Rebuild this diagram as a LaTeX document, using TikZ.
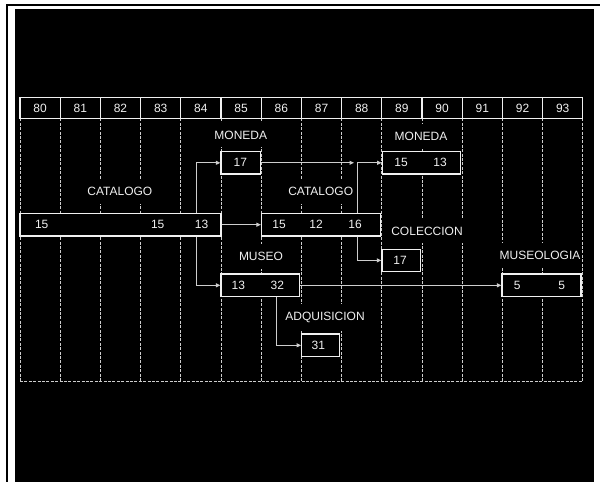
\documentclass[tikz,border=0pt]{standalone}
\usepackage{fontspec}
\setmainfont{Liberation Sans}
\usetikzlibrary{arrows.meta,calc}
\definecolor{paper}{RGB}{0,0,0}
\definecolor{ink}{RGB}{240,240,240}
\definecolor{trace}{RGB}{205,205,205}

\begin{document}
\begin{tikzpicture}[x=1pt,y=-1pt,
  >={Triangle[length=4.5pt,width=4pt]},
  font=\fontsize{12}{14}\selectfont,
  cell/.style={draw=ink,line width=1.3pt},
  gridline/.style={trace,line width=0.9pt,dash pattern=on 3pt off 1.4pt},
  box/.style={draw=ink,fill=paper,line width=1.3pt,minimum height=22.4pt,inner sep=0pt},
  num/.style={text=ink,inner sep=0pt},
  tag/.style={text=ink,fill=paper,inner xsep=1.5pt,inner ysep=8pt},
  year/.style={text=ink,inner sep=0pt},
  link/.style={trace,line width=1pt,->}
]
\useasboundingbox (0,0) rectangle (600,482);
% Scanned sheet: white page, black frame lines, black plate.
\fill[white] (0,0) rectangle (600,482);
\fill[paper] (15,9) rectangle (594,482);
\draw[paper,line width=2pt] (7,482) -- (7,5) -- (600,5);

% Year columns (dashed below the header row).
\draw[gridline] (20.0,118.3) -- (20.0,381) (60.2,118.3) -- (60.2,381) (100.4,118.3) -- (100.4,381)
  (140.6,118.3) -- (140.6,381) (180.8,118.3) -- (180.8,381) (221.0,118.3) -- (221.0,381)
  (261.2,118.3) -- (261.2,381) (301.4,118.3) -- (301.4,381) (341.6,118.3) -- (341.6,381)
  (381.8,118.3) -- (381.8,381) (422.0,118.3) -- (422.0,381) (462.2,118.3) -- (462.2,381)
  (502.4,118.3) -- (502.4,381) (542.6,118.3) -- (542.6,381) (582.8,118.3) -- (582.8,381)
  (20.0,381) -- (582.8,381);
\draw[cell] (20.0,97.3) rectangle (582.8,118.3);
\draw[cell] (60.2,97.3) -- (60.2,118.3) (100.4,97.3) -- (100.4,118.3) (140.6,97.3) -- (140.6,118.3)
  (180.8,97.3) -- (180.8,118.3) (221.0,97.3) -- (221.0,118.3) (261.2,97.3) -- (261.2,118.3)
  (301.4,97.3) -- (301.4,118.3) (341.6,97.3) -- (341.6,118.3) (381.8,97.3) -- (381.8,118.3)
  (422.0,97.3) -- (422.0,118.3) (462.2,97.3) -- (462.2,118.3) (502.4,97.3) -- (502.4,118.3)
  (542.6,97.3) -- (542.6,118.3);
\node[year] (y80) at (40.1,108) {80};
\node[year] (y81) at (80.3,108) {81};
\node[year] (y82) at (120.5,108) {82};
\node[year] (y83) at (160.7,108) {83};
\node[year] (y84) at (200.9,108) {84};
\node[year] (y85) at (241.1,108) {85};
\node[year] (y86) at (281.3,108) {86};
\node[year] (y87) at (321.5,108) {87};
\node[year] (y88) at (361.7,108) {88};
\node[year] (y89) at (401.9,108) {89};
\node[year] (y90) at (442.1,108) {90};
\node[year] (y91) at (482.3,108) {91};
\node[year] (y92) at (522.5,108) {92};
\node[year] (y93) at (562.7,108) {93};

% Series names knock out the column lines behind them.
\node[tag] (tmon1) at (240.8,135.0) {MONEDA};
\node[tag] (tmon2) at (421.0,136.7) {MONEDA};
\node[tag] (tcat1) at (119.8,191.7) {CATALOGO};
\node[tag] (tcat2) at (320.7,191.7) {CATALOGO};
\node[tag] (tcol)  at (427.0,231.0) {COLECCION};
\node[tag] (tmus)  at (261.0,256.7) {MUSEO};
\node[tag] (tmusl) at (540.0,255.7) {MUSEOLOGIA};
\node[tag] (tadq)  at (325.0,317.7) {ADQUISICION};

\node[box,minimum width=201pt]   (cat1)  at (120.5,224.7) {};
\node[box,minimum width=39.3pt]  (mon1)  at (240.6,162.8) {};
\node[box,minimum width=119pt]   (cat2)  at (321.1,224.7) {};
\node[box,minimum width=78pt]    (mon2)  at (421.2,162.8) {};
\node[box,minimum width=38.3pt]  (col)   at (401.1,260.4) {};
\node[box,minimum width=78.2pt]  (mus)   at (260.1,285.3) {};
\node[box,minimum width=37.8pt]  (adq)   at (320.6,345.3) {};
\node[box,minimum width=79pt]    (musl)  at (541.5,285.3) {};

\node[num] (cat1a) at (41.7,224.7)  {15};
\node[num] (cat1b) at (157.7,224.7) {15};
\node[num] (cat1c) at (201.5,224.7) {13};
\node[num] (mon1a) at (240.3,162.8) {17};
\node[num] (cat2a) at (279.0,224.7) {15};
\node[num] (cat2b) at (316.0,224.7) {12};
\node[num] (cat2c) at (355.0,224.7) {16};
\node[num] (mon2a) at (401.0,162.8) {15};
\node[num] (mon2b) at (440.0,162.8) {13};
\node[num] (cola)  at (400.0,260.4) {17};
\node[num] (musa)  at (238.3,285.3) {13};
\node[num] (musb)  at (277.3,285.3) {32};
\node[num] (adqa)  at (318.3,345.3) {31};
\node[num] (musla) at (517.3,285.3) {5};
\node[num] (muslb) at (561.7,285.3) {5};

% Transitions between series.
\coordinate (mjoin) at (354.0,162.8);
\draw[link] (cat1) -- (cat2);
\draw[link] ($(cat1.north)+(76.2,0)$) |- (mon1.west);
\draw[link] ($(cat1.south)+(76.2,0)$) |- (mus.west);
\draw[link] (mon1.east) -- (mjoin);
\draw[link] ($(cat2.north)+(36.7,0)$) |- (mon2.west);
\draw[link] ($(cat2.south)+(36.7,0)$) |- (col.west);
\draw[link] (mus) -- (musl);
\draw[link] ($(mus.south)+(16.2,0)$) |- (adq.west);
\end{tikzpicture}
\end{document}
